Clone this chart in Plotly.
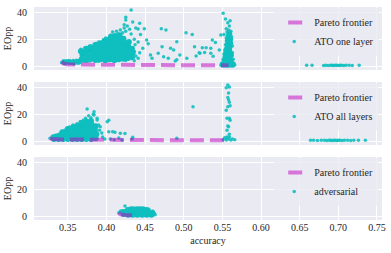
import plotly.graph_objects as go
from plotly.subplots import make_subplots

# ---------------- data ----------------
# Panel 1: ATO one layer
p1_front_x = [0.342, 0.345, 0.350, 0.370, 0.400, 0.450, 0.500, 0.558]
p1_front_y = [3.0, 1.8, 1.2, 1.0, 0.8, 0.7, 0.6, 0.5]

p1_core = [
    (0.346, 2.8), (0.352, 3.0), (0.358, 2.6), (0.364, 3.2),
    (0.368, 5.0), (0.369, 8.2), (0.367, 11.0),
    (0.374, 4.5), (0.375, 7.5), (0.373, 10.5), (0.374, 13.0),
    (0.380, 5.2), (0.381, 8.0), (0.379, 11.2), (0.380, 14.0),
    (0.386, 4.5), (0.387, 7.5), (0.385, 10.5), (0.386, 13.5), (0.387, 16.0),
    (0.392, 5.0), (0.393, 8.0), (0.391, 11.0), (0.392, 14.0), (0.393, 17.0),
    (0.398, 4.5), (0.399, 7.5), (0.397, 10.5), (0.398, 13.5), (0.399, 16.5), (0.398, 19.0),
    (0.404, 5.0), (0.405, 8.0), (0.403, 11.0), (0.404, 14.0), (0.405, 17.0), (0.404, 20.0), (0.406, 22.0),
    (0.410, 4.5), (0.411, 7.5), (0.409, 10.5), (0.410, 13.5), (0.411, 16.5), (0.410, 19.5), (0.411, 22.5),
    (0.416, 5.0), (0.417, 8.0), (0.415, 11.0), (0.416, 14.0), (0.417, 17.0), (0.416, 20.0), (0.417, 23.0),
    (0.422, 5.5), (0.423, 8.5), (0.421, 11.5), (0.422, 14.5), (0.423, 17.5), (0.422, 20.5),
    (0.428, 6.0), (0.429, 9.0), (0.427, 12.0), (0.428, 15.0), (0.429, 18.0),
    (0.433, 6.5), (0.434, 10.0), (0.433, 13.0),
    (0.551, 1.0), (0.555, 1.0), (0.559, 1.0), (0.563, 1.0),
    (0.553, 4.0), (0.557, 4.0), (0.561, 4.0),
    (0.554, 7.0), (0.558, 7.0), (0.561, 8.0),
    (0.555, 10.0), (0.559, 11.0), (0.556, 13.0), (0.559, 14.0),
    (0.557, 16.0), (0.560, 17.0), (0.557, 19.0), (0.560, 20.0),
    (0.558, 22.0), (0.559, 24.0),
]
p1_pts = [
    (0.342, 2.6), (0.344, 3.8), (0.347, 2.2), (0.349, 4.0), (0.351, 2.4), (0.353, 3.6),
    (0.355, 2.0), (0.357, 4.2), (0.359, 2.7), (0.361, 4.4), (0.363, 2.3), (0.365, 3.8),
    (0.367, 12.5), (0.370, 10.0), (0.372, 13.5), (0.375, 12.0), (0.378, 15.0), (0.381, 13.0),
    (0.384, 16.5), (0.387, 15.0), (0.390, 18.0), (0.393, 16.5), (0.396, 19.5), (0.399, 21.0),
    (0.402, 19.0), (0.405, 23.0), (0.408, 25.5), (0.410, 22.5), (0.413, 26.0), (0.415, 24.0),
    (0.418, 27.0), (0.421, 25.0), (0.423, 28.5), (0.425, 26.0), (0.427, 30.0), (0.430, 27.5),
    (0.432, 24.0), (0.436, 20.0), (0.437, 16.0), (0.436, 11.0), (0.438, 7.5), (0.436, 4.0),
    (0.370, 3.5), (0.378, 3.8), (0.390, 3.6), (0.400, 3.5), (0.412, 3.8), (0.425, 4.2),
    (0.432, 42.0), (0.425, 36.5), (0.425, 34.5), (0.423, 31.0), (0.434, 33.0), (0.443, 32.0),
    (0.441, 27.7), (0.449, 28.0), (0.438, 28.5), (0.444, 23.7), (0.452, 19.5), (0.454, 16.7),
    (0.447, 13.3), (0.441, 18.0), (0.443, 10.0), (0.441, 5.8), (0.457, 8.2), (0.459, 5.8),
    (0.467, 9.5), (0.471, 28.0), (0.477, 27.0), (0.472, 14.5), (0.474, 7.0), (0.480, 5.8),
    (0.483, 13.3), (0.491, 18.2), (0.495, 8.2), (0.491, 4.7), (0.487, 12.0), (0.489, 3.7),
    (0.503, 25.0), (0.511, 23.7), (0.504, 5.8), (0.514, 14.5), (0.520, 10.0), (0.524, 13.7),
    (0.529, 13.7), (0.516, 7.5), (0.521, 9.5), (0.527, 10.2), (0.535, 13.3), (0.537, 19.5),
    (0.541, 17.7), (0.535, 9.5), (0.538, 7.3), (0.546, 12.0), (0.548, 23.2), (0.552, 23.7),
    (0.551, 39.5), (0.554, 35.2), (0.560, 34.0), (0.557, 32.5), (0.559, 30.0), (0.555, 28.0),
    (0.549, 2.0), (0.551, 5.0), (0.552, 9.0), (0.553, 12.0), (0.554, 16.0), (0.555, 21.0),
    (0.556, 25.5), (0.561, 26.0), (0.558, 27.0), (0.562, 22.0), (0.563, 15.0), (0.563, 10.0),
    (0.564, 5.0), (0.565, 2.0), (0.566, 0.8), (0.548, 0.5),
    (0.659, 0.5), (0.666, 0.5), (0.681, 0.4), (0.684, 0.6), (0.687, 0.4), (0.690, 0.5),
    (0.692, 0.6), (0.694, 0.4), (0.696, 0.5), (0.698, 0.6), (0.700, 0.4), (0.702, 0.5),
    (0.704, 0.6), (0.707, 0.4), (0.710, 0.5), (0.714, 0.5), (0.718, 0.4), (0.727, 0.5),
]

# Panel 2: ATO all layers
p2_front_x = [0.327, 0.330, 0.340, 0.360, 0.400, 0.450, 0.500, 0.557]
p2_front_y = [2.0, 1.5, 1.2, 1.0, 0.8, 0.7, 0.6, 0.5]

p2_core = [
    (0.332, 1.5), (0.333, 3.0),
    (0.338, 1.5), (0.339, 4.0),
    (0.344, 1.5), (0.345, 4.0), (0.343, 6.5),
    (0.350, 1.5), (0.351, 4.0), (0.349, 6.5), (0.350, 9.0),
    (0.356, 1.5), (0.357, 4.0), (0.355, 6.5), (0.356, 9.0), (0.357, 10.5),
    (0.362, 1.5), (0.363, 4.0), (0.361, 6.5), (0.362, 9.0), (0.363, 11.5),
    (0.368, 1.5), (0.369, 4.0), (0.367, 6.5), (0.368, 9.0), (0.369, 11.5), (0.368, 13.5),
    (0.374, 1.5), (0.375, 4.0), (0.373, 6.5), (0.374, 9.0), (0.375, 11.5), (0.374, 14.5),
    (0.380, 1.5), (0.381, 4.0), (0.379, 6.5), (0.380, 9.0), (0.381, 12.0), (0.380, 15.0),
    (0.386, 2.0), (0.387, 5.0), (0.385, 8.0), (0.386, 11.0),
]
p2_pts = [
    (0.327, 2.0), (0.330, 3.5), (0.335, 4.5), (0.340, 5.5), (0.346, 8.0), (0.352, 10.5),
    (0.357, 12.0), (0.362, 13.0), (0.366, 14.5), (0.370, 15.5), (0.373, 17.0), (0.375, 24.0),
    (0.377, 19.0), (0.380, 17.5), (0.384, 22.0), (0.384, 19.5), (0.381, 13.7), (0.388, 15.7),
    (0.388, 17.0), (0.383, 20.0), (0.390, 12.0), (0.392, 10.7), (0.391, 8.0), (0.394, 6.0),
    (0.395, 3.0), (0.398, 1.5), (0.401, 14.5), (0.403, 15.6), (0.403, 7.0), (0.408, 7.0),
    (0.411, 6.5), (0.418, 5.8), (0.424, 5.7), (0.434, 2.8), (0.416, 2.2), (0.405, 1.5),
    (0.433, 1.5), (0.410, 1.0), (0.420, 0.8), (0.512, 25.7), (0.491, 2.0),
    (0.557, 42.0), (0.559, 40.5), (0.555, 40.0), (0.558, 36.0), (0.557, 32.7), (0.558, 31.0),
    (0.559, 29.0), (0.557, 25.7), (0.560, 26.5), (0.555, 23.0), (0.556, 17.0), (0.559, 17.0),
    (0.560, 15.5), (0.557, 11.2), (0.558, 10.7), (0.556, 8.0), (0.559, 5.0), (0.556, 3.0),
    (0.551, 1.0), (0.553, 2.5), (0.555, 0.8), (0.556, 2.0), (0.558, 1.5), (0.559, 3.0),
    (0.561, 0.8), (0.563, 1.5), (0.566, 1.0),
    (0.664, 0.5), (0.668, 0.5), (0.673, 0.4), (0.678, 0.5), (0.682, 0.6), (0.685, 0.4),
    (0.688, 0.5), (0.690, 0.6), (0.692, 0.4), (0.694, 0.5), (0.696, 0.6), (0.698, 0.4),
    (0.700, 0.5), (0.702, 0.5), (0.705, 0.4), (0.708, 0.5), (0.712, 0.5), (0.716, 0.4),
    (0.720, 0.5), (0.726, 0.5), (0.735, 0.5),
]

# Panel 3: adversarial
p3_front_x = [0.416, 0.418, 0.425, 0.433]
p3_front_y = [2.5, 1.2, 0.8, 0.6]

p3_core = [
    (0.422, 1.5), (0.423, 3.0),
    (0.428, 1.0), (0.429, 3.0), (0.428, 4.5),
    (0.434, 1.0), (0.435, 3.0), (0.434, 5.0),
    (0.440, 1.0), (0.441, 3.0), (0.440, 5.0),
    (0.446, 1.0), (0.447, 3.0), (0.446, 5.0),
    (0.452, 1.0), (0.453, 3.0), (0.452, 4.5),
    (0.458, 1.0), (0.459, 2.5),
]
p3_pts = [
    (0.416, 2.5), (0.418, 3.5), (0.420, 4.0), (0.424, 7.5), (0.427, 5.5), (0.431, 6.0),
    (0.437, 5.8), (0.443, 6.0), (0.449, 5.8), (0.455, 5.0), (0.460, 3.5), (0.462, 2.0),
    (0.463, 1.0), (0.460, 0.5), (0.438, 0.3), (0.450, 0.4),
]

series_names = ["ATO one layer", "ATO all layers", "adversarial"]
frontier_name = "Pareto frontier"
x_ticks = [0.35, 0.40, 0.45, 0.50, 0.55, 0.60, 0.65, 0.70, 0.75]
y_ticks = [0, 20, 40]

# ---------------- figure ----------------
CYAN = "#0fbfbf"
FRONT = "rgba(191,0,191,0.5)"
FONT = "Liberation Serif, Times New Roman, serif"
TXT = "#262626"

fig = make_subplots(rows=3, cols=1, shared_xaxes=True, vertical_spacing=12 / 213)

panels = [
    (p1_front_x, p1_front_y, p1_core, p1_pts),
    (p2_front_x, p2_front_y, p2_core, p2_pts),
    (p3_front_x, p3_front_y, p3_core, p3_pts),
]
legend_ids = ["legend", "legend2", "legend3"]

for i, (fx, fy, core, pts) in enumerate(panels):
    row = i + 1
    lg = legend_ids[i]
    cx, cy = zip(*core)
    px_, py_ = zip(*pts)
    fig.add_trace(go.Scatter(x=list(cx), y=list(cy), mode="markers",
                             marker=dict(size=6, color=CYAN, line=dict(width=0)),
                             showlegend=False, hoverinfo="skip"), row=row, col=1)
    fig.add_trace(go.Scatter(x=list(px_), y=list(py_), mode="markers", name=series_names[i],
                             marker=dict(size=3.5, color=CYAN, opacity=0.9, line=dict(width=0)),
                             legend=lg, legendrank=2), row=row, col=1)
    fig.add_trace(go.Scatter(x=fx, y=fy, mode="lines",
                             line=dict(color=FRONT, width=4, dash="14px,6px"),
                             showlegend=False), row=row, col=1)
    # legend entry for the frontier
    fig.add_trace(go.Scatter(x=[None], y=[None], mode="lines", name=frontier_name,
                             line=dict(color=FRONT, width=4, dash="0px,9px,14px,100px"),
                             legend=lg, legendrank=1), row=row, col=1)

H = 213.0
tops = [7, 82, 157]  # pixel tops of each panel
legend_cfg = {}
for i, lg in enumerate(legend_ids):
    ytop = 1 - (tops[i] + 1 - 7) / H
    legend_cfg[lg] = dict(x=(274 - 34) / 347.7, y=min(ytop, 1.0), xanchor="left", yanchor="top",
                          bgcolor="rgba(234,234,242,0.8)", borderwidth=0,
                          font=dict(family=FONT, size=10, color=TXT),
                          itemwidth=30, tracegroupgap=0)

fig.update_layout(
    width=391, height=253,
    margin=dict(l=34, r=9.3, t=7, b=33, autoexpand=False),
    paper_bgcolor="white", plot_bgcolor="#eaeaf2",
    font=dict(family=FONT, size=10, color=TXT),
    **legend_cfg,
)

fig.update_xaxes(range=[0.3063, 0.7565], tickvals=x_ticks, tickformat=".2f",
                 showgrid=True, gridcolor="white", gridwidth=1, zeroline=False,
                 showline=False, ticks="", automargin=False,
                 tickfont=dict(family=FONT, size=10, color=TXT))
fig.update_xaxes(title=dict(text="accuracy", standoff=4, font=dict(family=FONT, size=10, color=TXT)),
                 row=3, col=1)
fig.update_yaxes(range=[-3, 44.25], tickvals=y_ticks, showgrid=True, gridcolor="white",
                 gridwidth=1, zeroline=False, showline=False, ticks="", automargin=False,
                 ticklabelstandoff=6,
                 tickfont=dict(family=FONT, size=10, color=TXT),
                 title=dict(text="EOpp", standoff=3, font=dict(family=FONT, size=10, color=TXT)))

fig.write_html("out.html", config={"displayModeBar": False},
               post_script="document.body.style.margin='0';document.body.style.padding='0';")
